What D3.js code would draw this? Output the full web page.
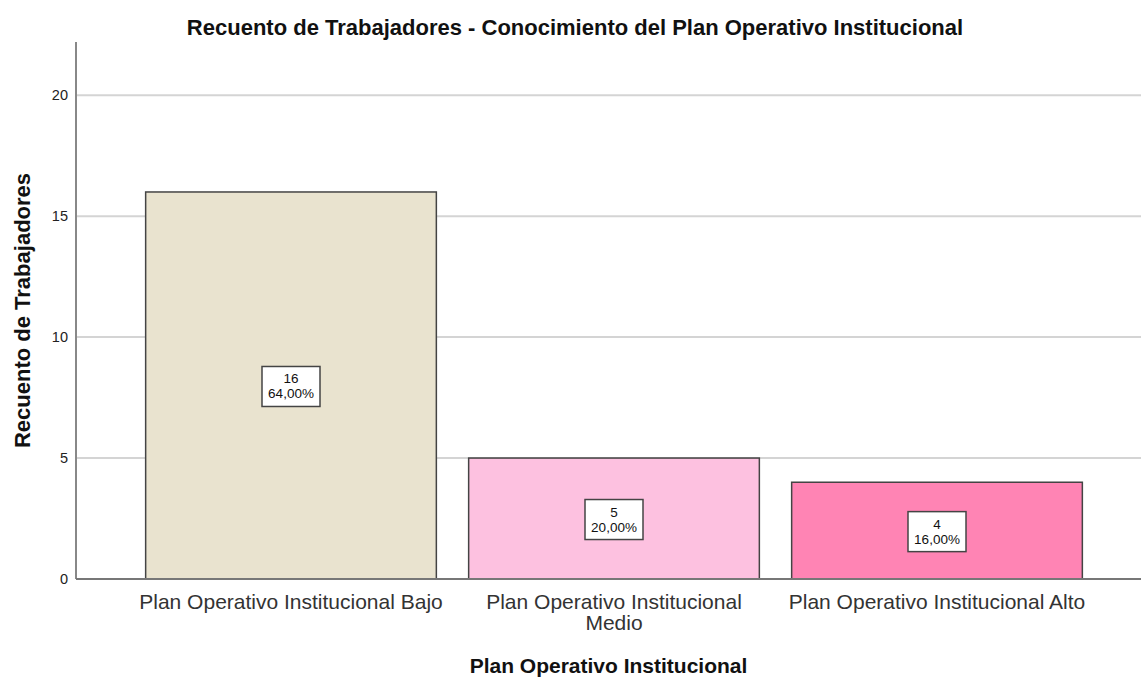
<!DOCTYPE html>
<html>
<head>
<meta charset="utf-8">
<script src="https://cdn.jsdelivr.net/npm/d3@7"></script>
<style>
body { margin: 0; background: #fff; }
text { font-family: "Liberation Sans", Arial, sans-serif; }
</style>
</head>
<body>
<svg class="chart"></svg>
<script>
var categories = ["Plan Operativo Institucional Bajo", "Plan Operativo Institucional Medio", "Plan Operativo Institucional Alto"];
var counts = [16, 5, 4];
var percents = ["64,00%", "20,00%", "16,00%"];
var colors = ["#e9e3cf", "#fdc1e0", "#ff84b4"];
var yTicks = [0, 5, 10, 15, 20];

var width = 1141, height = 677;
var plot = {left: 76, right: 1141, top: 42, bottom: 579};

var x = d3.scaleBand()
	.domain(categories)
	.range([129.5, 1098.5])
	.paddingInner(0.1)
	.paddingOuter(0.05);

var y = d3.scaleLinear()
	.domain([0, 22.2])
	.range([plot.bottom, plot.top]);

var svg = d3.select(".chart")
	.attr("width", width)
	.attr("height", height);

// gridlines
svg.append("g")
	.selectAll("line")
	.data(yTicks.filter(d => d > 0))
	.enter()
	.append("line")
	.attr("x1", plot.left)
	.attr("x2", plot.right)
	.attr("y1", d => y(d))
	.attr("y2", d => y(d))
	.attr("stroke", "#d4d4d4")
	.attr("stroke-width", 2);

// y axis
var yAxis = d3.axisLeft(y).tickValues(yTicks).tickSize(0).tickPadding(8);
var gy = svg.append("g")
	.attr("transform", "translate(" + plot.left + ",0)")
	.call(yAxis);
gy.select(".domain").remove();
gy.selectAll("text")
	.attr("font-size", 14.5)
	.attr("fill", "#222")
	.attr("font-family", "Liberation Sans, Arial, sans-serif");

svg.append("line")
	.attr("x1", plot.left).attr("x2", plot.left)
	.attr("y1", plot.top).attr("y2", plot.bottom)
	.attr("stroke", "#888").attr("stroke-width", 2);

// bars
svg.selectAll(".bar")
	.data(counts)
	.enter()
	.append("rect")
	.attr("class", "bar")
	.attr("x", (d, i) => x(categories[i]))
	.attr("y", d => y(d))
	.attr("width", x.bandwidth())
	.attr("height", d => y(0) - y(d))
	.attr("fill", (d, i) => colors[i])
	.attr("stroke", "#444")
	.attr("stroke-width", 1.5);

// x axis line
svg.append("line")
	.attr("x1", plot.left).attr("x2", plot.right)
	.attr("y1", plot.bottom).attr("y2", plot.bottom)
	.attr("stroke", "#777").attr("stroke-width", 2);

// value labels
var lab = svg.selectAll(".lab")
	.data(counts)
	.enter()
	.append("g")
	.attr("class", "lab")
	.attr("transform", (d, i) => "translate(" + (x(categories[i]) + x.bandwidth() / 2) + "," + y(d / 2) + ")");

lab.append("rect")
	.attr("x", -29)
	.attr("y", -19)
	.attr("width", 58)
	.attr("height", 40)
	.attr("fill", "#fff")
	.attr("stroke", "#444")
	.attr("stroke-width", 1.5);

lab.append("text")
	.attr("text-anchor", "middle")
	.attr("y", -2)
	.attr("font-size", 13.5)
	.attr("fill", "#111")
	.text(d => d);

lab.append("text")
	.attr("text-anchor", "middle")
	.attr("y", 13)
	.attr("font-size", 13.5)
	.attr("fill", "#111")
	.text((d, i) => percents[i]);

// x tick labels
var xAxis = d3.axisBottom(x).tickSize(0).tickPadding(0);
var gx = svg.append("g")
	.attr("transform", "translate(0," + plot.bottom + ")")
	.call(xAxis);
gx.select(".domain").remove();
gx.selectAll("text")
	.attr("font-size", 21)
	.attr("fill", "#333")
	.attr("font-family", "Liberation Sans, Arial, sans-serif")
	.attr("dy", null)
	.attr("y", 30)
	.call(wrap, 315);

// titles
svg.append("text")
	.attr("x", 575)
	.attr("y", 35)
	.attr("text-anchor", "middle")
	.attr("font-size", 22)
	.attr("font-weight", "bold")
	.attr("fill", "#111")
	.text("Recuento de Trabajadores - Conocimiento del Plan Operativo Institucional");

svg.append("text")
	.attr("transform", "translate(30," + ((plot.top + plot.bottom) / 2) + ") rotate(-90)")
	.attr("text-anchor", "middle")
	.attr("font-size", 22)
	.attr("font-weight", "bold")
	.attr("fill", "#111")
	.text("Recuento de Trabajadores");

svg.append("text")
	.attr("x", (plot.left + plot.right) / 2)
	.attr("y", 673)
	.attr("text-anchor", "middle")
	.attr("font-size", 21)
	.attr("font-weight", "bold")
	.attr("fill", "#111")
	.text("Plan Operativo Institucional");

function wrap(text, w) {
	text.each(function() {
		var t = d3.select(this);
		var words = t.text().split(/\s+/);
		var yy = t.attr("y");
		t.text(null);
		var line = [];
		var n = 0;
		var tspan = t.append("tspan").attr("x", 0).attr("y", yy);
		words.forEach(function(word) {
			line.push(word);
			tspan.text(line.join(" "));
			if (tspan.node().getComputedTextLength() > w && line.length > 1) {
				line.pop();
				tspan.text(line.join(" "));
				line = [word];
				n++;
				tspan = t.append("tspan").attr("x", 0).attr("y", yy).attr("dy", n * 21).text(word);
			}
		});
	});
}
</script>
</body>
</html>
